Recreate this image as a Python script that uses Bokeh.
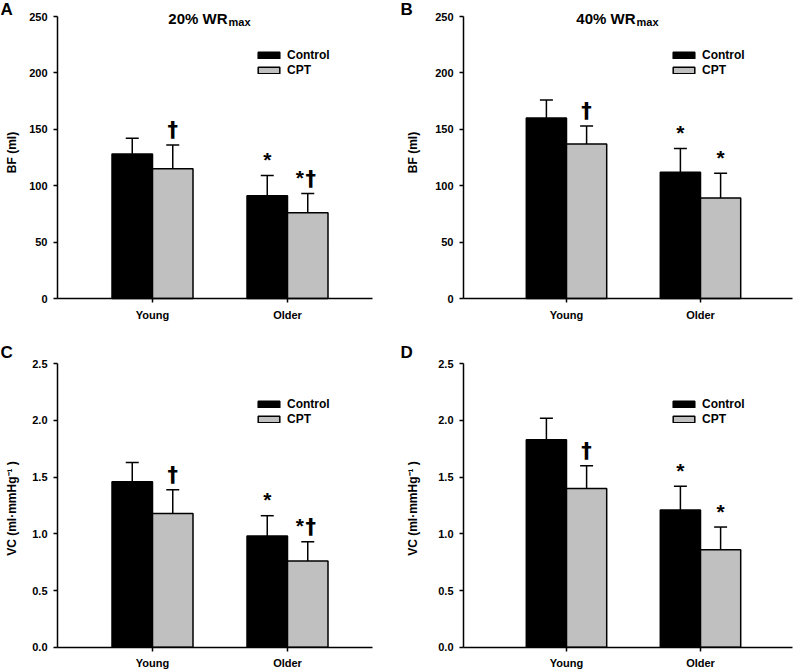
from bokeh.plotting import figure
from bokeh.models import (Range1d, FixedTicker, Label, Legend, LegendItem,
                          ColumnDataSource, Whisker, TeeHead, NumeralTickFormatter)
from bokeh.layouts import gridplot
from bokeh.embed import file_html
from bokeh.resources import INLINE
from bokeh.core.properties import value

# ---------------- data ----------------
groups = ["Young", "Older"]
series = ["Control", "CPT"]

# Panel A: BF (ml) at 20% WRmax
a_control = [128, 91]
a_control_err = [14, 18]
a_cpt = [115, 76]
a_cpt_err = [21, 17]
a_control_marks = ["", "*"]
a_cpt_marks = ["\u2020", "*\u2020"]

# Panel B: BF (ml) at 40% WRmax
b_control = [160, 112]
b_control_err = [16, 21]
b_cpt = [137, 89]
b_cpt_err = [16, 22]
b_control_marks = ["", "*"]
b_cpt_marks = ["\u2020", "*"]

# Panel C: VC at 20% WRmax
c_control = [1.46, 0.98]
c_control_err = [0.17, 0.18]
c_cpt = [1.18, 0.76]
c_cpt_err = [0.21, 0.17]
c_control_marks = ["", "*"]
c_cpt_marks = ["\u2020", "*\u2020"]

# Panel D: VC at 40% WRmax
d_control = [1.83, 1.21]
d_control_err = [0.19, 0.21]
d_cpt = [1.40, 0.86]
d_cpt_err = [0.20, 0.20]
d_control_marks = ["", "*"]
d_cpt_marks = ["\u2020", "*"]

bf_ticks = [0, 50, 100, 150, 200, 250]
vc_ticks = [0.0, 0.5, 1.0, 1.5, 2.0, 2.5]

FONT = "Liberation Sans"
DAGGER_FONT = "DejaVu Sans"
GRAY = "#c0c0c0"
BAR_W = 0.3
STAR, DAGGER = "*", "\u2020"

# ---- layout (pixels) ----
COLS = [
    dict(width=400, axis_px=57, xend_px=372, g0_px=152, unit=135, letter_x=0,
         title_x=227, leg_x=255, ylab_x=11.5),
    dict(width=396, axis_px=63, xend_px=392, g0_px=166, unit=134, letter_x=0,
         title_x=235, leg_x=270, ylab_x=12.5),
]
ROWS = [
    dict(height=330, top_px=16.0, zero_px=298.0, letter_y=9.0, leg_top=50, ylab_y=152),
    dict(height=340, top_px=33.3, zero_px=316.7, letter_y=21.5, leg_top=69, ylab_y=178),
]


def mark_source(xs, tops, marks, symbol, both_off, single_off):
    sx, sy, so = [], [], []
    for x, t, m in zip(xs, tops, marks):
        if symbol in m:
            sx.append(x)
            sy.append(t)
            so.append(both_off if len(m) > 1 else single_off)
    return ColumnDataSource(dict(x=sx, y=sy, off=so, t=[symbol] * len(sx)))


def make_panel(letter, title, ylabel, yticks, yfmt, ctrl, ctrl_err, cpt, cpt_err,
               ctrl_marks, cpt_marks, col, rw):
    C = COLS[col]
    R = ROWS[rw]
    W, H = C["width"], R["height"]
    x_start = 1 - C["g0_px"] / C["unit"]
    x_end = x_start + W / C["unit"]
    x_axis = x_start + C["axis_px"] / C["unit"]
    x_axis_end = x_start + C["xend_px"] / C["unit"]
    y0, y1 = yticks[0], yticks[-1]
    per_px = (y1 - y0) / (R["zero_px"] - R["top_px"])
    y_end = y1 + R["top_px"] * per_px
    y_start = y0 - (H - R["zero_px"]) * per_px

    p = figure(width=W, height=H, output_backend="svg", toolbar_location=None,
               x_range=Range1d(x_start, x_end), y_range=Range1d(y_start, y_end),
               min_border_left=0, min_border_right=0, min_border_top=0,
               min_border_bottom=0)
    p.outline_line_color = None
    p.grid.visible = False
    p.background_fill_color = "white"
    p.border_fill_color = "white"

    xs = [i + 1 for i in range(len(groups))]
    cx = [x - BAR_W / 2 for x in xs]
    px = [x + BAR_W / 2 for x in xs]
    c_up = [v + e for v, e in zip(ctrl, ctrl_err)]
    p_up = [v + e for v, e in zip(cpt, cpt_err)]
    src_c = ColumnDataSource(dict(x=cx, top=ctrl, up=c_up))
    src_p = ColumnDataSource(dict(x=px, top=cpt, up=p_up))

    r1 = p.vbar(x="x", top="top", bottom=0, width=BAR_W, source=src_c,
                fill_color="black", line_color="black", line_width=1.5)
    r2 = p.vbar(x="x", top="top", bottom=0, width=BAR_W, source=src_p,
                fill_color=GRAY, line_color="black", line_width=1.5)

    for src in (src_c, src_p):
        w = Whisker(base="x", lower="top", upper="up", source=src, dimension="height",
                    line_color="black", line_width=1.5,
                    upper_head=TeeHead(size=13, line_width=1.5, line_color="black"),
                    lower_head=None)
        p.add_layout(w)

    # significance marks
    all_x = cx + px
    all_up = c_up + p_up
    all_marks = ctrl_marks + cpt_marks
    star_src = mark_source(all_x, all_up, all_marks, STAR, -8, 0)
    dag_src = mark_source(all_x, all_up, all_marks, DAGGER, 3, 0)
    p.text(x="x", y="y", text="t", source=star_src, x_offset="off", y_offset=-16,
           text_align="center", text_baseline="middle", text_font=value(FONT),
           text_font_style="bold", text_font_size="21px", text_color="black")
    p.text(x="x", y="y", text="t", source=dag_src, x_offset="off", y_offset=-15,
           text_align="center", text_baseline="middle", text_font=value(DAGGER_FONT),
           text_font_style="bold", text_font_size="21px", text_color="black")

    # axes, drawn at fixed data positions
    for ax in (p.xaxis[0], p.yaxis[0]):
        ax.axis_line_width = 1.5
        ax.axis_line_color = "black"
        ax.major_tick_line_width = 1.5
        ax.major_tick_line_color = "black"
        ax.major_tick_in = 0
        ax.minor_tick_line_color = None
        ax.major_label_text_font = FONT
        ax.major_label_text_font_style = "bold"
        ax.major_label_text_font_size = "11px"
        ax.major_label_text_color = "black"
    p.yaxis.fixed_location = x_axis
    p.yaxis.bounds = (y0, y1)
    p.yaxis.ticker = FixedTicker(ticks=yticks)
    p.yaxis.formatter = NumeralTickFormatter(format=yfmt)
    p.yaxis.major_tick_out = 4
    p.yaxis.major_label_standoff = 6

    p.xaxis.fixed_location = y0
    p.xaxis.bounds = (x_axis, x_axis_end)
    p.xaxis.ticker = FixedTicker(ticks=xs)
    p.xaxis.major_label_overrides = {x: g for x, g in zip(xs, groups)}
    p.xaxis.major_tick_out = 4
    p.xaxis.major_label_standoff = 6

    # y axis title
    p.add_layout(Label(x=C["ylab_x"], y=H - R["ylab_y"], x_units="screen", y_units="screen",
                       text=ylabel, angle=90, angle_units="deg", text_align="center",
                       text_baseline="middle", text_font=FONT, text_font_style="bold",
                       text_font_size="12px", text_color="black"))

    # legend (location = bottom-left corner, px from frame bottom-left)
    legend = Legend(items=[LegendItem(label=series[0], renderers=[r1]),
                           LegendItem(label=series[1], renderers=[r2])],
                    location=(C["leg_x"], H - R["leg_top"] - 27),
                    glyph_width=27, glyph_height=8, label_height=8, label_standoff=5,
                    spacing=1, padding=0, margin=0, border_line_color=None,
                    background_fill_alpha=0, label_text_font=FONT,
                    label_text_font_style="bold", label_text_font_size="12px",
                    label_text_color="black")
    p.add_layout(legend)

    # panel letter
    p.add_layout(Label(x=C["letter_x"], y=H - R["letter_y"],
                       x_units="screen", y_units="screen", text=letter,
                       text_font=FONT, text_font_style="bold", text_font_size="17px",
                       text_baseline="middle", text_color="black"))
    if title:
        p.add_layout(Label(x=C["title_x"], y=H - 17.8, x_units="screen", y_units="screen",
                           text=title, text_align="right", text_baseline="middle",
                           text_font=FONT, text_font_style="bold", text_font_size="15px",
                           text_color="black"))
        p.add_layout(Label(x=C["title_x"] + 1, y=H - 21.9, x_units="screen",
                           y_units="screen", text="max", text_align="left",
                           text_baseline="middle", text_font=FONT,
                           text_font_style="bold", text_font_size="11px",
                           text_color="black"))
    return p


vc_label = "VC (ml\u00b7mmHg\u207b\u00b9 )"
pa = make_panel("A", "20% WR", "BF (ml)", bf_ticks, "0", a_control, a_control_err,
                a_cpt, a_cpt_err, a_control_marks, a_cpt_marks, 0, 0)
pb = make_panel("B", "40% WR", "BF (ml)", bf_ticks, "0", b_control, b_control_err,
                b_cpt, b_cpt_err, b_control_marks, b_cpt_marks, 1, 0)
pc = make_panel("C", None, vc_label, vc_ticks, "0.0", c_control, c_control_err,
                c_cpt, c_cpt_err, c_control_marks, c_cpt_marks, 0, 1)
pd_ = make_panel("D", None, vc_label, vc_ticks, "0.0", d_control, d_control_err,
                 d_cpt, d_cpt_err, d_control_marks, d_cpt_marks, 1, 1)

grid = gridplot([[pa, pb], [pc, pd_]], toolbar_location=None)

open("out.html", "w").write(file_html(grid, INLINE))
